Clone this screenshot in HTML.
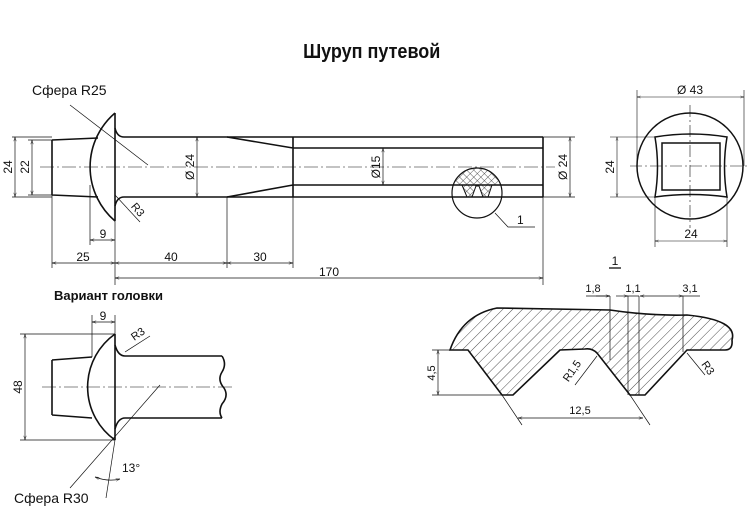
<!DOCTYPE html>
<html><head><meta charset="utf-8"><style>body{margin:0;background:#fff}svg{display:block}text{font-family:"Liberation Sans",sans-serif;fill:#111}</style></head><body>
<svg width="750" height="525" viewBox="0 0 750 525" xmlns="http://www.w3.org/2000/svg">
<defs>
<marker id="a" viewBox="0 0 10 10" refX="10" refY="5" markerWidth="8" markerHeight="6" orient="auto-start-reverse"><path d="M0,2 L10,5 L0,8" fill="none" stroke="#111" stroke-width="1"/></marker>
<pattern id="h" width="7" height="7" patternUnits="userSpaceOnUse" patternTransform="rotate(45)"><line x1="0" y1="0" x2="0" y2="7" stroke="#222" stroke-width="0.8"/></pattern>
<pattern id="x" width="5" height="5" patternUnits="userSpaceOnUse" patternTransform="rotate(45)"><path d="M0,0V5M0,0H5" stroke="#222" stroke-width="0.7"/></pattern>
<clipPath id="c"><circle cx="477" cy="193" r="25"/></clipPath>
</defs>
<text x="372" y="58" font-size="20" font-weight="bold" text-anchor="middle" transform="scale(0.9,1) translate(41,0)">Шуруп путевой</text>
<g fill="none" stroke="#111">
<!-- main view -->
<line x1="40" y1="167" x2="555" y2="167" stroke-width="0.6" stroke-dasharray="14,3,2,3"/>
<g stroke-width="1.6">
<path d="M52,140 L98,138 M52,195 L98,197 M52,140 V195"/>
<path d="M115,113 A71,71 0 0 0 115,221"/>
<line x1="115" y1="113" x2="115" y2="221"/>
<path d="M115,128 Q117,137 124,137 L543,137 M115,206 Q117,197 124,197 L543,197"/>
<line x1="543" y1="137" x2="543" y2="197"/>
<path d="M227,137 L293,148 M227,197 L293,185 M293,137 V197 M293,148 H543 M293,185 H543"/>
<circle cx="477" cy="193" r="25" stroke-width="1.2"/>
</g>
<path clip-path="url(#c)" d="M450,185 L462,185 L467,197 L472,197 L476,186 L479,186 L483,197 L488,197 L492,185 L505,185 V160 H450Z" fill="url(#x)" stroke-width="1"/>
<g stroke-width="0.7">
<path d="M70,105 L148,165 M115,195 L140,222 M495,213 L508,227 H535"/>
<path d="M12,137 H52 M12,197 H52 M28,140 H52 M28,195 H52 M52,195 V268 M115,221 V285 M90,185 V245 M227,197 V268 M293,197 V268 M543,197 V285 M543,137 H575 M543,197 H575"/>
<line x1="15" y1="137" x2="15" y2="197" marker-start="url(#a)" marker-end="url(#a)"/>
<line x1="32" y1="140" x2="32" y2="195" marker-start="url(#a)" marker-end="url(#a)"/>
<line x1="197" y1="137" x2="197" y2="197" marker-start="url(#a)" marker-end="url(#a)"/>
<line x1="383" y1="148" x2="383" y2="185" marker-start="url(#a)" marker-end="url(#a)"/>
<line x1="570" y1="137" x2="570" y2="197" marker-start="url(#a)" marker-end="url(#a)"/>
<line x1="90" y1="240" x2="115" y2="240" marker-start="url(#a)" marker-end="url(#a)"/>
<line x1="52" y1="263" x2="115" y2="263" marker-start="url(#a)" marker-end="url(#a)"/>
<line x1="115" y1="263" x2="227" y2="263" marker-start="url(#a)" marker-end="url(#a)"/>
<line x1="227" y1="263" x2="293" y2="263" marker-start="url(#a)" marker-end="url(#a)"/>
<line x1="115" y1="278" x2="543" y2="278" marker-start="url(#a)" marker-end="url(#a)"/>
</g>
<!-- end view -->
<g stroke-width="1.5">
<circle cx="690" cy="166" r="53"/>
<path d="M655,137 Q691,131 727,137 Q722,167 727,197 Q691,192 655,197 Q660,167 655,137z"/>
<rect x="662" y="143" width="58" height="47"/>
</g>
<g stroke-width="0.6">
<path d="M630,166 H750 M690,105 V228" stroke-dasharray="12,3,2,3"/>
<path d="M637,166 V90 M744,166 V90 M655,197 V247 M727,197 V247 M610,137 H655 M610,197 H655"/>
<line x1="637" y1="97" x2="744" y2="97" marker-start="url(#a)" marker-end="url(#a)"/>
<line x1="655" y1="241" x2="727" y2="241" marker-start="url(#a)" marker-end="url(#a)"/>
<line x1="617" y1="137" x2="617" y2="197" marker-start="url(#a)" marker-end="url(#a)"/>
</g>
<!-- variant head -->
<line x1="42" y1="387" x2="235" y2="387" stroke-width="0.6" stroke-dasharray="14,3,2,3"/>
<g stroke-width="1.6">
<path d="M52,360 L92,357 M52,415 L92,418 M52,360 V415"/>
<path d="M115,334 A65,65 0 0 0 115,440"/>
<line x1="115" y1="334" x2="115" y2="440"/>
<path d="M115,345 Q118,356 125,356 L222,356 M115,429 Q118,418 125,418 L222,418"/>
<path d="M222,356 q5,8 0,16 q-5,8 2,16 q5,8 -2,16 q-4,8 0,14"/>
</g>
<g stroke-width="0.7">
<path d="M20,334 H115 M20,440 H115 M92,357 V315 M115,334 V315 M125,352 L150,336 M70,488 L160,385 M115,440 L106,498"/>
<line x1="25" y1="334" x2="25" y2="440" marker-start="url(#a)" marker-end="url(#a)"/>
<line x1="92" y1="322" x2="115" y2="322" marker-start="url(#a)" marker-end="url(#a)"/>
<path d="M95,477 Q108,482 120,479" marker-start="url(#a)" marker-end="url(#a)"/>
</g>
<!-- detail 1 -->
<path d="M450,350 Q462,315 497,308 L610,310 Q650,316 687,315 Q738,320 732,340 Q733,350 725,350 L687,350 L645,395 L630,395 L597,353 Q592,348 585,349 L560,350 L513,395 L502,395 L468,350 Z" fill="url(#h)" stroke-width="1.6"/>
<g stroke-width="0.7">
<path d="M610,296 V360 M628,296 V395 M639,296 V395 M683,296 V352"/>
<path d="M586,296 H610 M628,296 H639 M683,296 H700"/>
<line x1="596" y1="296" x2="610" y2="296" marker-end="url(#a)"/>
<line x1="640" y1="296" x2="683" y2="296" marker-start="url(#a)" marker-end="url(#a)"/>
<line x1="616" y1="296" x2="628" y2="296" marker-end="url(#a)"/>
<path d="M432,350 H468 M432,395 H502 M502,395 L522,425 M630,395 L650,425 M575,385 L597,356 M705,375 L687,353"/>
<line x1="438" y1="350" x2="438" y2="395" marker-start="url(#a)" marker-end="url(#a)"/>
<line x1="518" y1="418" x2="643" y2="418" marker-start="url(#a)" marker-end="url(#a)"/>
<line x1="609" y1="268" x2="621" y2="268" stroke-width="1.3"/>
</g>
</g>
<g font-size="12">
<text x="32" y="95" font-size="14">Сфера R25</text>
<text x="54" y="300" font-size="13" font-weight="bold">Вариант головки</text>
<text x="14" y="503" font-size="14">Сфера R30</text>
<text x="103" y="238" text-anchor="middle">9</text>
<text x="83" y="261" text-anchor="middle">25</text>
<text x="171" y="261" text-anchor="middle">40</text>
<text x="260" y="261" text-anchor="middle">30</text>
<text x="329" y="276" text-anchor="middle">170</text>
<text x="517" y="224">1</text>
<text x="690" y="94" text-anchor="middle">Ø 43</text>
<text x="691" y="238" text-anchor="middle">24</text>
<text x="103" y="320" text-anchor="middle">9</text>
<text x="122" y="472">13°</text>
<text x="615" y="265" text-anchor="middle">1</text>
<text x="593" y="292" text-anchor="middle" font-size="11">1,8</text>
<text x="633" y="292" text-anchor="middle" font-size="11">1,1</text>
<text x="690" y="292" text-anchor="middle" font-size="11">3,1</text>
<text x="580" y="414" text-anchor="middle" font-size="11">12,5</text>
<text transform="translate(12,167) rotate(-90)" text-anchor="middle">24</text>
<text transform="translate(29,167) rotate(-90)" text-anchor="middle">22</text>
<text transform="translate(194,167) rotate(-90)" text-anchor="middle">Ø 24</text>
<text transform="translate(380,167) rotate(-90)" text-anchor="middle">Ø15</text>
<text transform="translate(567,167) rotate(-90)" text-anchor="middle">Ø 24</text>
<text transform="translate(614,167) rotate(-90)" text-anchor="middle">24</text>
<text transform="translate(22,387) rotate(-90)" text-anchor="middle">48</text>
<text transform="translate(435,373) rotate(-90)" text-anchor="middle" font-size="11">4,5</text>
<text transform="translate(135,212) rotate(50)" text-anchor="middle" font-size="11">R3</text>
<text transform="translate(140,337) rotate(-35)" text-anchor="middle" font-size="11">R3</text>
<text transform="translate(575,373) rotate(-55)" text-anchor="middle" font-size="11">R1,5</text>
<text transform="translate(705,370) rotate(55)" text-anchor="middle" font-size="11">R3</text>
</g>
</svg>
</body></html>
